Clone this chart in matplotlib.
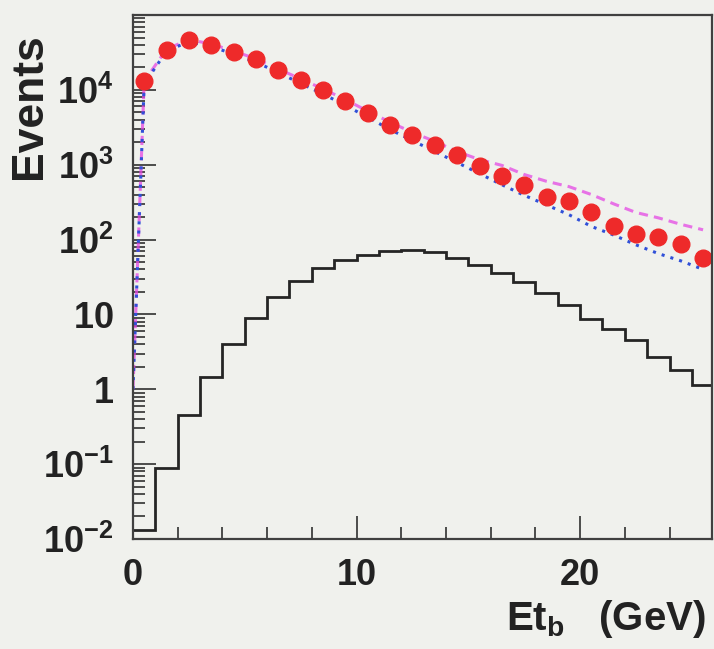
import numpy as np
import matplotlib.pyplot as plt
from matplotlib.ticker import FixedLocator, FixedFormatter, LogLocator, MultipleLocator, NullFormatter

plt.rcParams['font.family'] = ['Liberation Sans', 'DejaVu Sans']
plt.rcParams['font.weight'] = 'bold'
plt.rcParams['mathtext.fontset'] = 'custom'
plt.rcParams['mathtext.rm'] = 'Liberation Sans:bold'
plt.rcParams['mathtext.bf'] = 'Liberation Sans:bold'
plt.rcParams['mathtext.it'] = 'Liberation Sans:bold'

# bins of 1 GeV, 0..26
edges = np.arange(0, 27, 1.0)
centers = edges[:-1] + 0.5

# data points (red)
data = [1.3e4, 3.4e4, 4.6e4, 4.0e4, 3.2e4, 2.6e4, 1.85e4, 1.36e4, 1.0e4, 7.1e3,
        4.9e3, 3.4e3, 2.5e3, 1.85e3, 1.33e3, 970, 710, 530, 370, 330,
        230, 154, 117, 107, 86, 56]

# curves start at the left edge
curve_x = np.concatenate([[0.0], centers])
# blue dotted
blue = [1.0, 1.2e4, 3.3e4, 4.4e4, 3.8e4, 3.0e4, 2.35e4, 1.7e4, 1.22e4, 8.8e3, 6.2e3,
        4.3e3, 2.95e3, 2.1e3, 1.5e3, 1.07e3, 760, 540, 390, 290, 215,
        150, 115, 85, 65, 52, 40]
# magenta dashed
magenta = [1.0, 1.3e4, 3.5e4, 4.7e4, 4.1e4, 3.3e4, 2.6e4, 1.9e4, 1.4e4, 1.03e4, 7.4e3,
           5.2e3, 3.7e3, 2.7e3, 2.05e3, 1.5e3, 1.17e3, 980, 740, 600, 510,
           400, 300, 230, 195, 160, 135]

# black histogram
signal = [0.013, 0.09, 0.45, 1.45, 4.0, 9.0, 17, 28, 42, 54,
          63, 71, 72, 69, 57.5, 46, 36, 27, 19.6, 13.2,
          8.6, 6.3, 4.5, 2.7, 1.8, 1.13]

ytick_vals = [1e-2, 1e-1, 1, 10, 1e2, 1e3, 1e4]
ytick_labels = [r'$\mathbf{10^{-2}}$', r'$\mathbf{10^{-1}}$', r'$\mathbf{1}$', r'$\mathbf{10}$',
                r'$\mathbf{10^{2}}$', r'$\mathbf{10^{3}}$', r'$\mathbf{10^{4}}$']
xtick_vals = [0, 10, 20]

bg = '#f0f1ed'
fig = plt.figure(figsize=(7.14, 6.49), dpi=100, facecolor=bg)
ax = fig.add_axes([133/714, 1-539/649, (712-133)/714, (539-15)/649])
ax.set_facecolor(bg)

ax.plot(curve_x, magenta, color='#e448e4', ls=(0, (3, 2)), lw=2.2, alpha=0.75)
ax.plot(curve_x, blue, color='#3050d8', ls=(0, (1, 2)), lw=2.2)
ax.plot(centers, data, 'o', color='#ee2a2a', ms=12, mec='#ee2a2a')
ax.stairs(signal, edges, color='#252525', lw=2.0, baseline=None)

ax.set_yscale('log')
ax.set_xlim(0, 25.9)
ax.set_ylim(1e-2, 1e5)

ax.yaxis.set_major_locator(FixedLocator(ytick_vals))
ax.yaxis.set_major_formatter(FixedFormatter(ytick_labels))
ax.yaxis.set_minor_locator(LogLocator(base=10, subs=np.arange(2, 10), numticks=20))
ax.yaxis.set_minor_formatter(NullFormatter())
ax.xaxis.set_major_locator(FixedLocator(xtick_vals))
ax.xaxis.set_minor_locator(MultipleLocator(2))

ax.tick_params(which='both', direction='in', colors='#303030', width=1.2, labelsize=26,
               labelcolor='#222222')
ax.tick_params(which='major', length=16.5)
ax.tick_params(which='minor', length=8.5)
ax.tick_params(axis='x', pad=14)
ax.tick_params(axis='y', pad=14)
for s in ax.spines.values():
    s.set_color('#404040')
    s.set_linewidth(1.6)

fig.text(30/714, 1-106/649, 'Events', rotation=90, ha='center', va='center',
         fontsize=32, fontweight='bold', color='#222222')
fig.text(706/714, 1-630/649, r'Et$_{\mathbf{b}}$   (GeV)', ha='right', va='baseline',
         fontsize=29, fontweight='bold', color='#222222')

fig.savefig('out.png', dpi=100, facecolor=bg)
